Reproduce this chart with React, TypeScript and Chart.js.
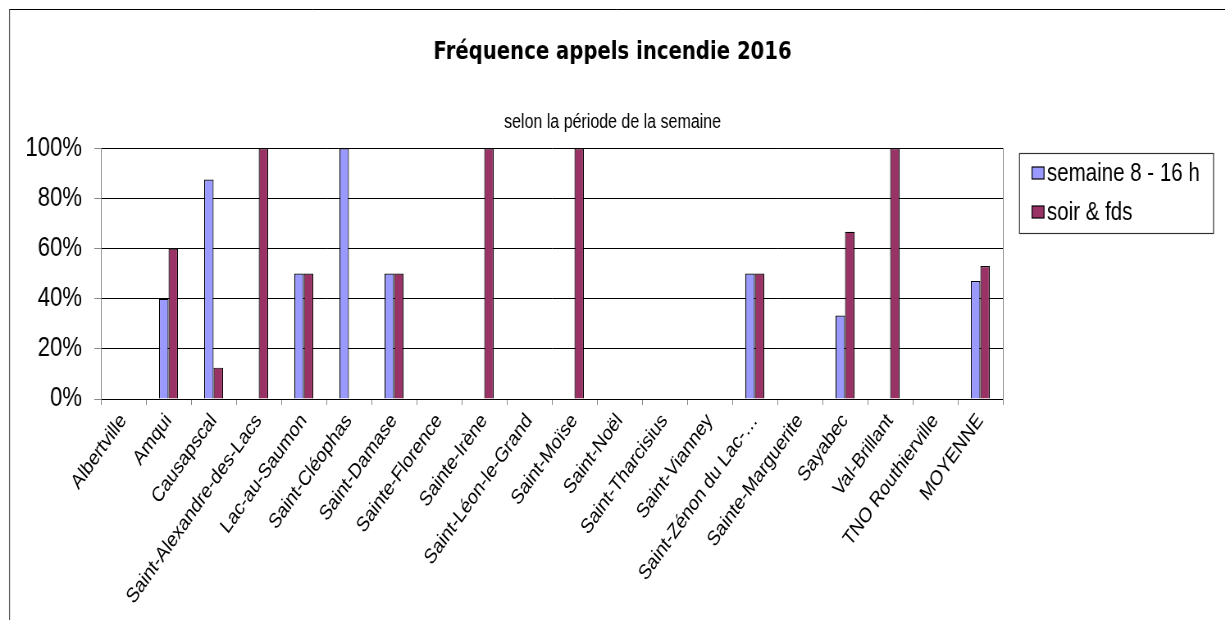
import React, { useEffect, useRef } from "react";
import { Chart, registerables } from "chart.js";

Chart.register(...registerables);

const categories = [
  "Albertville",
  "Amqui",
  "Causapscal",
  "Saint-Alexandre-des-Lacs",
  "Lac-au-Saumon",
  "Saint-Cléophas",
  "Saint-Damase",
  "Sainte-Florence",
  "Sainte-Irène",
  "Saint-Léon-le-Grand",
  "Saint-Moïse",
  "Saint-Noël",
  "Saint-Tharcisius",
  "Saint-Vianney",
  "Saint-Zénon du Lac-…",
  "Sainte-Marguerite",
  "Sayabec",
  "Val-Brillant",
  "TNO Routhierville",
  "MOYENNE",
];

const semaine = [0, 40, 87.5, 0, 50, 100, 50, 0, 0, 0, 0, 0, 0, 0, 50, 0, 33.3, 0, 0, 47];
const soir = [0, 60, 12.5, 100, 50, 0, 50, 0, 100, 0, 100, 0, 0, 0, 50, 0, 66.7, 100, 0, 53];

const seriesLabels = ["semaine 8 - 16 h", "soir & fds"];
const yTicks = [0, 20, 40, 60, 80, 100];

const TITLE = "Fréquence appels incendie 2016";
const SUBTITLE = "selon la période de la semaine";

// The reference is drawn with condensed text; the canvas is laid out wider and squeezed horizontally.
const SQUEEZE = 0.82;
const DISPLAY_W = 1225;
const DISPLAY_H = 620;
const W = Math.round(DISPLAY_W / SQUEEZE);
const ix = (x: number) => x / SQUEEZE;

const ARIAL = "'Liberation Sans', Arial, sans-serif";
const DEJAVU = "'DejaVu Sans', 'Liberation Sans', Arial, sans-serif";

const framePlugin = {
  id: "frame",
  beforeDraw(chart: any) {
    const ctx = chart.ctx;
    ctx.save();
    ctx.fillStyle = "#fff";
    ctx.fillRect(0, 0, chart.width, chart.height);
    ctx.lineWidth = 1;
    ctx.strokeStyle = "#000";
    ctx.beginPath();
    ctx.moveTo(ix(9), 9.5);
    ctx.lineTo(chart.width, 9.5);
    ctx.stroke();
    ctx.strokeStyle = "#555";
    ctx.lineWidth = 1.2;
    ctx.beginPath();
    ctx.moveTo(ix(9.5), 9);
    ctx.lineTo(ix(9.5), chart.height);
    ctx.stroke();
    ctx.restore();
  },
  afterDraw(chart: any) {
    const ctx = chart.ctx;
    ctx.save();
    // legend box
    const bx = ix(1019.5), by = 153.5, bw = ix(194), bh = 80;
    ctx.fillStyle = "#fff";
    ctx.fillRect(bx, by, bw, bh);
    ctx.lineWidth = 1.2;
    ctx.strokeStyle = "#333";
    ctx.strokeRect(bx, by, bw, bh);
    const rows = [173, 212];
    chart.data.datasets.forEach((ds: any, i: number) => {
      const cy = rows[i];
      ctx.fillStyle = ds.backgroundColor;
      ctx.fillRect(ix(1032), cy - 6, ix(12), 12);
      ctx.lineWidth = 1.2;
      ctx.strokeStyle = "#000";
      ctx.strokeRect(ix(1032), cy - 6, ix(12), 12);
      ctx.fillStyle = "#000";
      ctx.font = `25px ${ARIAL}`;
      ctx.textBaseline = "middle";
      ctx.textAlign = "left";
      ctx.fillText(ds.label, ix(1047), cy + 1);
    });
    ctx.restore();
  },
};

export default function App() {
  const ref = useRef<HTMLCanvasElement | null>(null);

  useEffect(() => {
    if (!ref.current) return;
    const chart = new Chart(ref.current, {
      type: "bar",
      data: {
        labels: categories,
        datasets: [
          {
            label: seriesLabels[0],
            data: semaine,
            backgroundColor: "#9999FF",
            borderColor: "#000",
            borderWidth: 1.2,
            categoryPercentage: 0.42,
            barPercentage: 1,
          },
          {
            label: seriesLabels[1],
            data: soir,
            backgroundColor: "#993366",
            borderColor: "#000",
            borderWidth: 1.2,
            categoryPercentage: 0.42,
            barPercentage: 1,
          },
        ],
      },
      options: {
        animation: false,
        responsive: false,
        maintainAspectRatio: false,
        devicePixelRatio: 1,
        layout: { padding: { left: 0, right: 0, top: 0, bottom: 0 } },
        plugins: {
          legend: { display: false },
          tooltip: { enabled: false },
          title: {
            display: true,
            text: TITLE,
            color: "#000",
            font: { family: DEJAVU, size: 24, weight: "bold" },
            padding: { top: 38, bottom: 44 },
          },
          subtitle: {
            display: true,
            text: SUBTITLE,
            color: "#000",
            font: { family: ARIAL, size: 19.5, weight: "normal" },
            padding: { top: 0, bottom: 14 },
          },
        },
        scales: {
          x: {
            offset: true,
            grid: {
              display: true,
              offset: true,
              drawOnChartArea: false,
              drawTicks: true,
              tickLength: 6,
              color: "#888",
            },
            border: { display: true, color: "#000" },
            ticks: {
              autoSkip: false,
              maxRotation: 49.5,
              minRotation: 49.5,
              color: "#000",
              padding: 4,
              font: { family: ARIAL, size: 21 },
            },
            afterFit(scale: any) {
              scale.height = DISPLAY_H - 399;
            },
          },
          y: {
            min: 0,
            max: 100,
            afterBuildTicks(scale: any) {
              scale.ticks = yTicks.map((v) => ({ value: v }));
            },
            grid: {
              color: "#000",
              drawTicks: true,
              tickLength: 8,
              tickColor: "#888",
            },
            border: { display: true, color: "#888" },
            ticks: {
              color: "#000",
              padding: 15,
              font: { family: ARIAL, size: 27 },
              callback: (v: any) => `${v}%`,
            },
            afterFit(scale: any) {
              scale.width = Math.round(ix(101));
            },
          },
          yRight: {
            position: "right",
            min: 0,
            max: 100,
            grid: { display: false, drawTicks: false },
            border: { display: true, color: "#888" },
            ticks: { display: false },
            afterFit(scale: any) {
              scale.width = W - Math.round(ix(1003));
            },
          },
        },
      },
      plugins: [framePlugin],
    });
    return () => chart.destroy();
  }, []);

  return (
    <div
      style={{
        position: "fixed",
        left: 0,
        top: 0,
        width: DISPLAY_W,
        height: DISPLAY_H,
        overflow: "hidden",
        background: "#fff",
      }}
    >
      <canvas
        ref={ref}
        width={W}
        height={DISPLAY_H}
        style={{ display: "block", transform: `scaleX(${SQUEEZE})`, transformOrigin: "0 0" }}
      />
    </div>
  );
}
